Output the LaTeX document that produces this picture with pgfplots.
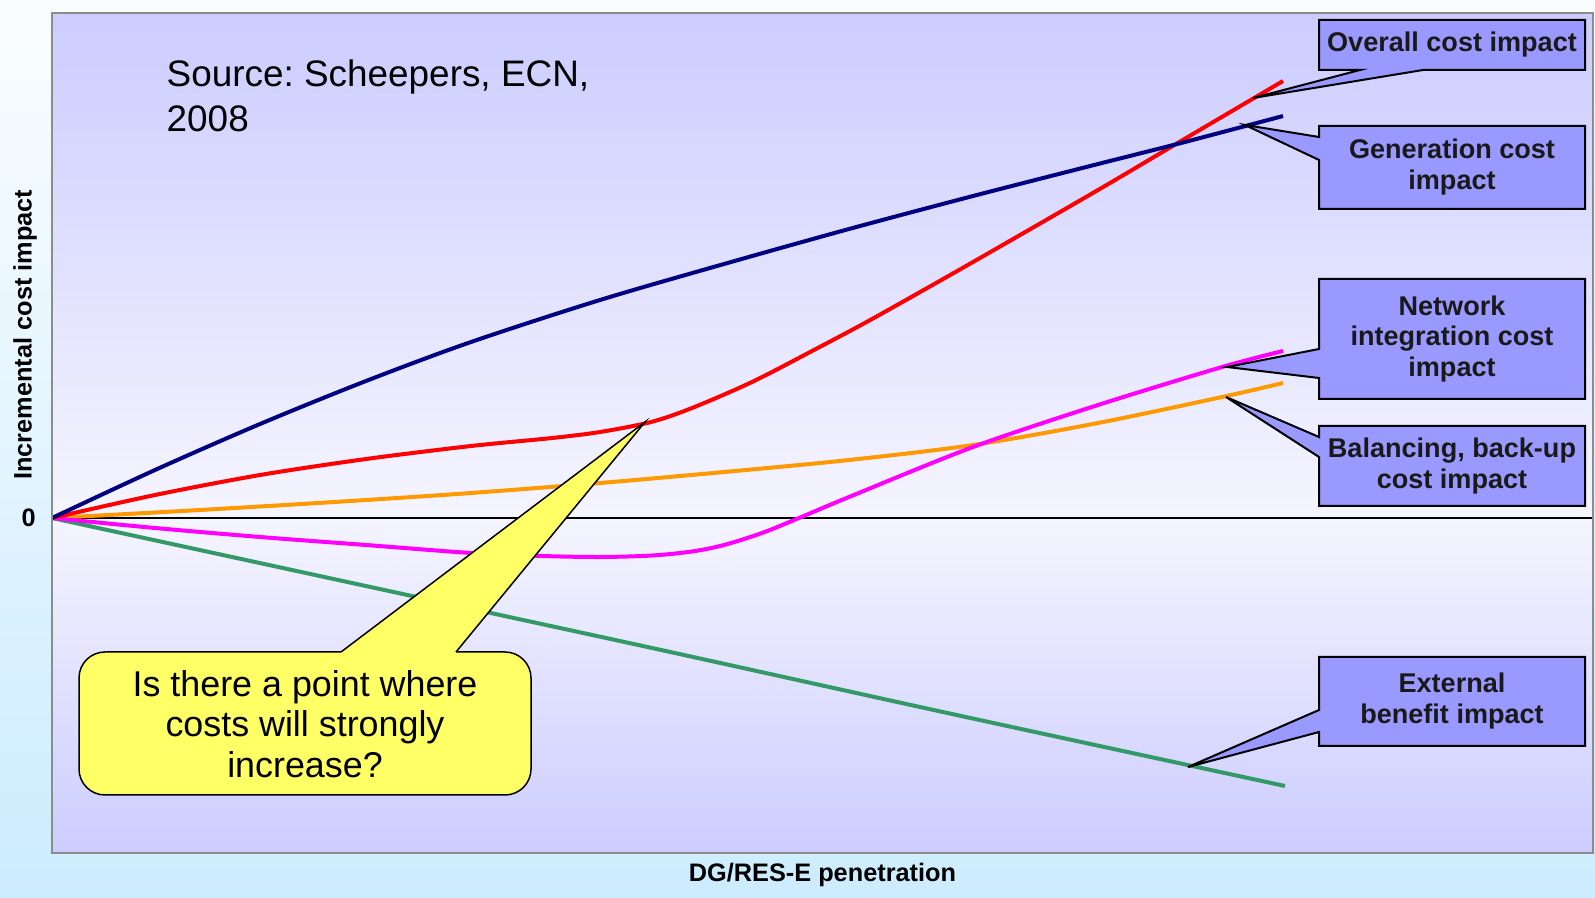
\documentclass[border=0pt]{standalone}
\usepackage{pgfplots}
\pgfplotsset{compat=1.18}
\usepackage{fontspec}
\setmainfont{Liberation Sans}
\frenchspacing

\definecolor{gencol}{HTML}{000080}
\definecolor{overcol}{HTML}{FF0000}
\definecolor{balcol}{HTML}{FF9900}
\definecolor{netcol}{HTML}{FF00FF}
\definecolor{extcol}{HTML}{339966}
\definecolor{boxfill}{HTML}{9999FF}
\definecolor{qfill}{HTML}{FFFF66}
\definecolor{framegray}{HTML}{8C8C8C}
\definecolor{bgblue}{HTML}{CCCCFF}
\definecolor{bglight}{HTML}{F5F5FF}
\definecolor{outtop}{HTML}{FAFDFF}
\definecolor{outbot}{HTML}{CCECFF}

% plot area: bluish at top and bottom, nearly white at the zero line
\pgfdeclareverticalshading{plotbg}{100bp}{color(0bp)=(bgblue); color(25bp)=(bgblue);
  color(45bp)=(bglight); color(75bp)=(bgblue); color(100bp)=(bgblue)}

\newcommand\boxfont{\fontsize{7.7}{8.7}\selectfont\bfseries}
\newcommand\axfont{\fontsize{7.2}{8.5}\selectfont\bfseries}

\begin{document}
% picture units: 1 = one pixel of the 1595x898 reference, y downwards
\begin{tikzpicture}[x=0.1mm, y=-0.1mm,
    callout/.style={fill=boxfill, draw=black, line width=0.2mm, line join=miter},
    boxtext/.style={font=\boxfont, align=center, text=black!90, inner sep=0pt}]
\useasboundingbox (0,0) rectangle (1595,898);
\shade[top color=outtop, bottom color=outbot] (0,0) rectangle (1595,898);

\begin{axis}[
    at={(5.2mm,-85.3mm)}, anchor=south west,
    scale only axis, width=154.1mm, height=84mm,
    xmin=0, xmax=1541, ymin=-335, ymax=505,
    axis on top,
    axis background/.style={shading=plotbg},
    axis line style={draw=framegray, line width=0.2mm},
    xtick=\empty,
    ytick={0}, yticklabels={0},
    major tick length=0pt,
    yticklabel style={font=\axfont, xshift=-0.4mm},
    xlabel={DG/RES-E penetration},
    ylabel={Incremental cost impact},
    xlabel style={font=\axfont, at={(axis description cs:0.5,-0.026)}, anchor=center},
    ylabel style={font=\axfont, at={(axis description cs:-0.0175,0.617)}, anchor=center},
    every axis plot/.append style={line width=0.4mm, smooth},
  ]
  % zero line
  \addplot[black, line width=0.2mm, sharp plot] coordinates {(0,0) (1541,0)};
  % External benefit impact
  \addplot[extcol] coordinates {(0,0) (300,-65) (600,-130) (900,-196) (1233,-268)};
  % Balancing, back-up cost impact
  \addplot[balcol] coordinates {(0,0) (103,5.5) (208,11.5) (314,18) (419,25) (548,35)
    (672,46) (797,58) (921,73) (1046,95) (1170,121) (1231,135)};
  % Network integration cost impact
  \addplot[netcol] coordinates {(0,0) (103,-10) (208,-19) (314,-27) (419,-35)
    (490,-38) (548,-39) (600,-37.5) (640,-33.5) (672,-27) (710,-15) (747,0) (797,21)
    (921,71) (1046,113) (1170,151) (1231,167)};
  % Overall cost impact
  \addplot[overcol] coordinates {(0,0) (103,23) (208,43) (314,59) (419,72) (500,80)
    (548,86) (599,96) (640,110) (700,136) (760,167) (820,199) (921,256) (1046,328)
    (1129,377) (1231,437)};
  % Generation cost impact
  \addplot[gencol] coordinates {(0,0) (103,48) (208,94) (314,137) (419,176) (548,218)
    (672,254) (797,289) (921,322) (1046,354) (1129,375) (1231,402)};
\end{axis}

% source note
\node[anchor=base west, inner sep=0pt, font=\fontsize{10.5}{12.8}\selectfont] at (166,87) {Source: Scheepers, ECN,};
\node[anchor=base west, inner sep=0pt, font=\fontsize{10.5}{12.8}\selectfont] at (166,132) {2008};

% question callout
\filldraw[fill=qfill, draw=black, line width=0.15mm, rounded corners=2.6mm] (79,652) rectangle (531,795);
\fill[qfill] (341,652.1) -- (645,422) -- (456,652.1) -- (456,656) -- (341,656) -- cycle;
\draw[black, line width=0.15mm, line join=miter] (341,652) -- (645,422) -- (456,652);
\node[font=\fontsize{10.2}{11.6}\selectfont, align=center, inner sep=0pt] at (305,724)
  {Is there a point where\\costs will strongly\\increase?};

% label callouts
\filldraw[callout] (1319,20) -- (1585,20) -- (1585,70) -- (1423,70) -- (1253,98) -- (1360,70) -- (1319,70) -- cycle;
\node[boxtext] at (1452,45) {Overall cost impact};

\filldraw[callout] (1319,126) -- (1585,126) -- (1585,209) -- (1319,209) -- (1319,160) -- (1245,125) -- (1319,137) -- cycle;
\node[boxtext] at (1452,167) {Generation cost\\impact};

\filldraw[callout] (1319,279) -- (1585,279) -- (1585,399) -- (1319,399) -- (1319,378) -- (1227,367) -- (1319,349) -- cycle;
\node[boxtext] at (1452,339) {Network\\integration cost\\impact};

\filldraw[callout] (1319,426) -- (1585,426) -- (1585,506) -- (1319,506) -- (1319,457) -- (1226,397) -- (1319,437) -- cycle;
\node[boxtext] at (1452,466) {Balancing, back-up\\cost impact};

\filldraw[callout] (1319,657) -- (1585,657) -- (1585,746) -- (1319,746) -- (1319,732) -- (1188,767) -- (1319,710) -- cycle;
\node[boxtext] at (1452,701) {External\\benefit impact};
\end{tikzpicture}
\end{document}
